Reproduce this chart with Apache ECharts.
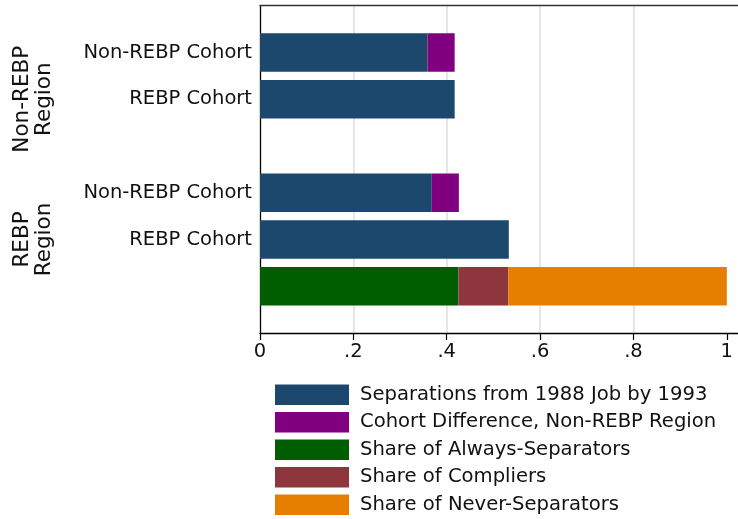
<!DOCTYPE html>
<html>
<head>
<meta charset="utf-8">
<script src="https://cdn.jsdelivr.net/npm/echarts@6/dist/echarts.min.js"></script>
<style>
  html, body { margin: 0; padding: 0; background: #fff; }
  #chart { width: 738px; height: 519px; }
</style>
</head>
<body>
<div id="chart"></div>
<script>
// Row slots on the category axis (top to bottom); blank slots give padding and the gap between regions
const rowLabels = ['', 'Non-REBP Cohort', 'REBP Cohort', '', 'Non-REBP Cohort', 'REBP Cohort', '', ''];
const rowKeys = ['top', 'nr_nr', 'nr_r', 'gap', 'r_nr', 'r_r', 'r_decomp', 'bottom'];

// Region group labels and the slot each is centred on
const groupLabels = ['Non-REBP\nRegion', 'REBP\nRegion'];
const groupSlots = [2, 5];

// Series values per slot
const separations = [null, 0.359, 0.417, null, 0.368, 0.533, null, null];
const cohortDiff = [null, 0.058, null, null, 0.058, null, null, null];
const alwaysSep  = [null, null, null, null, null, null, 0.425, null];
const compliers  = [null, null, null, null, null, null, 0.107, null];
const neverSep   = [null, null, null, null, null, null, 0.468, null];

const seriesNames = [
  'Separations from 1988 Job by 1993',
  'Cohort Difference, Non-REBP Region',
  'Share of Always-Separators',
  'Share of Compliers',
  'Share of Never-Separators'
];
const seriesColors = ['#1c486e', '#800080', '#005e00', '#8f353d', '#e67e00'];

// x-axis tick values and their printed form
const xTicks = [0, 0.2, 0.4, 0.6, 0.8, 1];
const xTickLabels = ['0', '.2', '.4', '.6', '.8', '1'];

const FONT = 'DejaVu Sans';
const chart = echarts.init(document.getElementById('chart'), null, { renderer: 'canvas' });

const seriesData = [separations, cohortDiff, alwaysSep, compliers, neverSep];
const series = seriesData.map((d, i) => ({
  name: seriesNames[i],
  type: 'bar',
  stack: 'total',
  barWidth: 38.5,
  data: d,
  itemStyle: { color: seriesColors[i] },
  emphasis: { disabled: true },
  animation: false
}));

chart.setOption({
  animation: false,
  textStyle: { fontFamily: FONT },
  grid: { left: 260, right: 0, top: 5.7, bottom: 186, containLabel: false },
  xAxis: [{
    type: 'value',
    min: 0,
    max: 1.024,
    position: 'bottom',
    axisLine: { show: true, lineStyle: { color: '#000', width: 1.3 } },
    axisTick: { show: true, length: 7, customValues: xTicks, lineStyle: { color: '#000', width: 1.2 } },
    axisLabel: {
      customValues: xTicks,
      margin: 9,
      fontSize: 19.5,
      fontFamily: FONT,
      color: '#111',
      formatter: v => {
        const k = xTicks.findIndex(t => Math.abs(t - v) < 1e-9);
        return k >= 0 ? xTickLabels[k] : '';
      }
    },
    splitLine: {
      show: true,
      showMinLine: false,
      showMaxLine: false,
      lineStyle: { color: '#dedede', width: 1.5 }
    }
  }, {
    type: 'value',
    min: 0,
    max: 1.024,
    position: 'top',
    axisLine: { show: true, onZero: false, lineStyle: { color: '#333', width: 1.3 } },
    axisTick: { show: false },
    axisLabel: { show: false },
    splitLine: { show: false }
  }],
  yAxis: {
    type: 'category',
    data: rowKeys,
    inverse: true,
    boundaryGap: false,
    axisLine: { show: true, lineStyle: { color: '#000', width: 1.3 } },
    axisTick: { show: false },
    splitLine: { show: false },
    axisLabel: {
      interval: 0,
      margin: 8,
      fontSize: 19.5,
      fontFamily: FONT,
      color: '#111',
      formatter: (v, i) => rowLabels[i]
    }
  },
  legend: {
    orient: 'vertical',
    left: 275,
    top: 384.5,
    padding: 0,
    itemWidth: 74,
    itemHeight: 20.5,
    itemGap: 7,
    icon: 'rect',
    selectedMode: false,
    data: seriesNames,
    textStyle: {
      fontSize: 19.6,
      fontFamily: FONT,
      color: '#111',
      lineHeight: 20.5,
      padding: [0, 0, 0, 6]
    }
  },
  series: series
});

// Rotated region labels, positioned on the category axis slots
const groupGraphics = groupLabels.map((txt, i) => {
  const y = chart.convertToPixel({ yAxisIndex: 0 }, groupSlots[i]);
  return {
    type: 'text',
    x: 33,
    y: y,
    rotation: Math.PI / 2,
    silent: true,
    style: {
      text: txt,
      fontSize: 21.5,
      fontFamily: FONT,
      lineHeight: 22,
      fill: '#111',
      align: 'center',
      verticalAlign: 'middle'
    }
  };
});
chart.setOption({ graphic: groupGraphics });
</script>
</body>
</html>
